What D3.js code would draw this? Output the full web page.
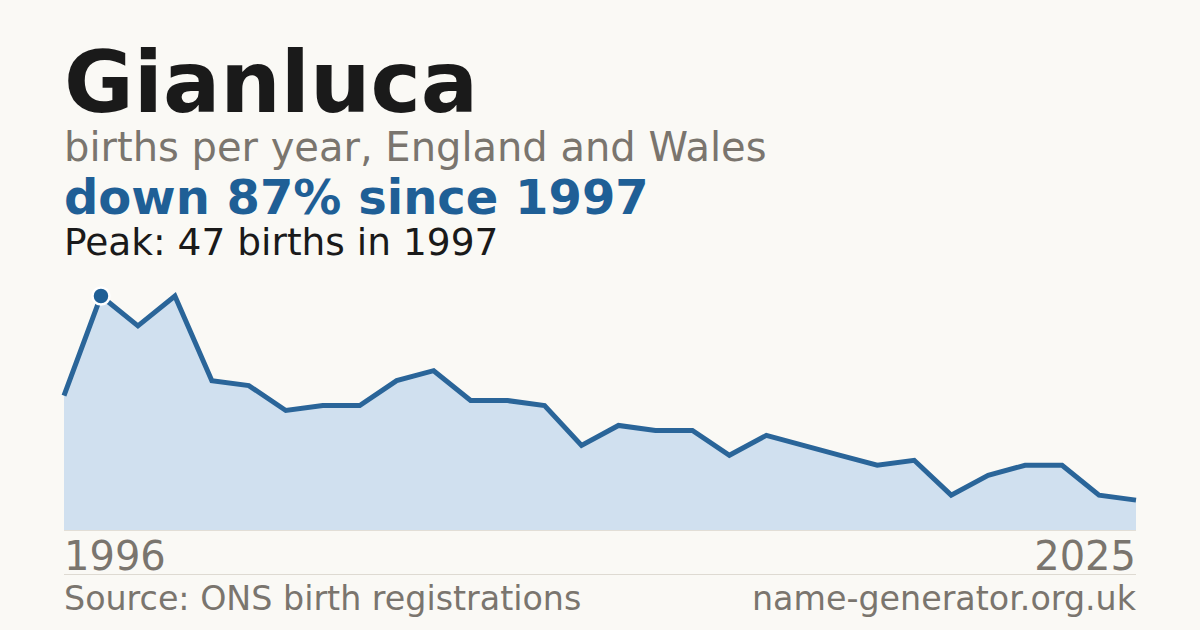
<!DOCTYPE html>
<html><head><meta charset="utf-8">
<script src="https://cdn.jsdelivr.net/npm/d3@7"></script>
<style>
html,body{margin:0;padding:0;background:#faf9f5;}
svg{display:block;font-family:"DejaVu Sans",sans-serif;}
</style></head>
<body>
<svg id="c" width="1200" height="630"></svg>
<script>
const years = [1996,1997,1998,1999,2000,2001,2002,2003,2004,2005,2006,2007,2008,2009,2010,2011,2012,2013,2014,2015,2016,2017,2018,2019,2020,2021,2022,2023,2024,2025];
const births = [27,47,41,47,30,29,24,25,25,30,32,26,26,25,17,21,20,20,15,19,17,15,13,14,7,11,13,13,7,6];
const tickLabels = ["1996","2025"];
const titleText = "Gianluca";
const subtitleText = "births per year, England and Wales";
const changeText = "down 87% since 1997";
const peakText = "Peak: 47 births in 1997";
const sourceText = "Source: ONS birth registrations";
const siteText = "name-generator.org.uk";

const svg = d3.select("#c");
const data = years.map((y,i)=>({year:y, v:births[i]}));
const x = d3.scaleLinear().domain([years[0], years[years.length-1]]).range([64,1136]);
const y = d3.scaleLinear().domain([0, d3.max(births)]).range([530,296]);

svg.append("rect").attr("width",1200).attr("height",630).attr("fill","#faf9f5");

svg.append("text").attr("x",64).attr("y",112).attr("font-size",85).attr("font-weight","bold").attr("fill","#1a1a1a").text(titleText);
svg.append("text").attr("x",64).attr("y",161).attr("font-size",40).attr("fill","#7a756e").text(subtitleText);
svg.append("text").attr("x",64).attr("y",214).attr("font-size",48).attr("font-weight","bold").attr("fill","#1f5f96").text(changeText);
svg.append("text").attr("x",64).attr("y",255).attr("font-size",37.5).attr("fill","#1a1a1a").text(peakText);

const area = d3.area().x(d=>x(d.year)).y0(y(0)).y1(d=>y(d.v));
svg.append("path").datum(data).attr("d",area).attr("fill","#d0e0ef");
svg.append("line").attr("x1",64).attr("x2",1136).attr("y1",530.5).attr("y2",530.5).attr("stroke","#e2ded6").attr("stroke-width",1);

const line = d3.line().x(d=>x(d.year)).y(d=>y(d.v));
svg.append("path").datum(data).attr("d",line).attr("fill","none").attr("stroke","#2a6599").attr("stroke-width",5).attr("stroke-linejoin","miter");

const pk = data[d3.maxIndex(births)];
svg.append("circle").attr("cx",x(pk.year)).attr("cy",y(pk.v)).attr("r",8.5).attr("fill","#1f5f96").attr("stroke","#ffffff").attr("stroke-width",2.5);

svg.append("text").attr("x",x(years[0])).attr("y",570).attr("font-size",40).attr("fill","#7a756e").text(tickLabels[0]);
svg.append("text").attr("x",x(years[years.length-1])).attr("y",570).attr("font-size",40).attr("fill","#7a756e").attr("text-anchor","end").text(tickLabels[1]);

svg.append("line").attr("x1",64).attr("x2",1136).attr("y1",574.5).attr("y2",574.5).attr("stroke","#dedad2").attr("stroke-width",1);

svg.append("text").attr("x",64).attr("y",610).attr("font-size",33.3).attr("fill","#7a756e").text(sourceText);
svg.append("text").attr("x",1136).attr("y",610).attr("font-size",33.3).attr("fill","#7a756e").attr("text-anchor","end").text(siteText);
</script>
</body></html>
